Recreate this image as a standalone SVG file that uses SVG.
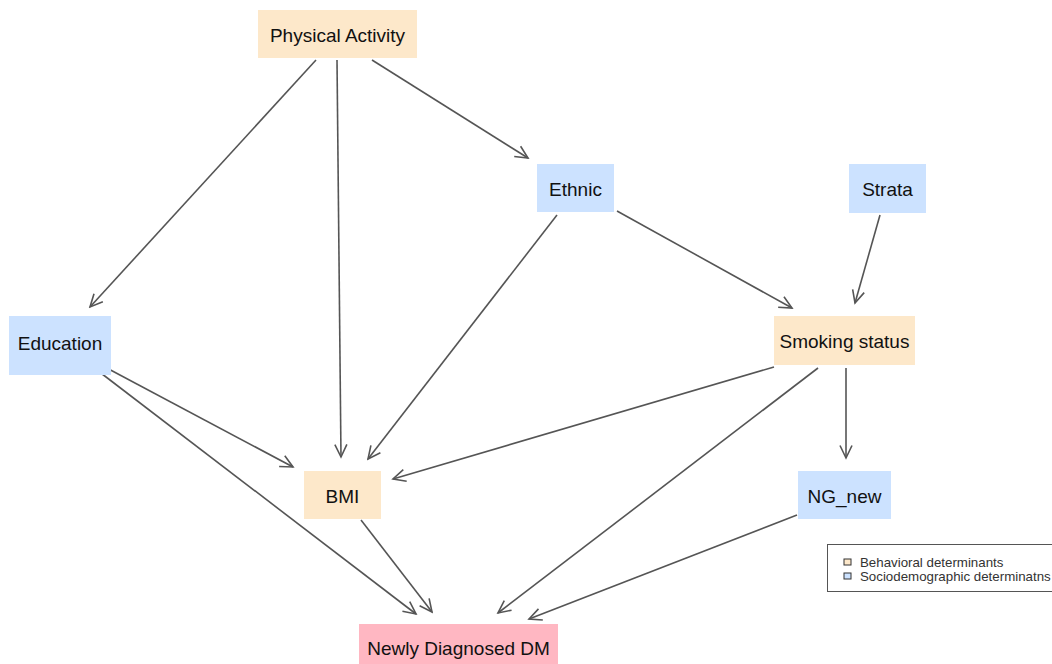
<svg xmlns="http://www.w3.org/2000/svg" width="1052" height="664" viewBox="0 0 1052 664">
<style>
.beh{fill:#FDE8CA}
.soc{fill:#CCE2FF}
.out{fill:#FFB7C2}
.lbl{font-family:"Liberation Sans",Arial,sans-serif;font-size:19px;fill:#111;text-anchor:middle;dominant-baseline:central}
.edge{stroke:#555;stroke-width:1.6;fill:none;marker-end:url(#arr)}
.leg{font-family:"Liberation Sans",Arial,sans-serif;font-size:13.3px;fill:#333}
</style>
<defs>
<marker id="arr" markerUnits="userSpaceOnUse" markerWidth="16" markerHeight="16" viewBox="0 0 16 16" refX="14" refY="8" orient="auto">
<path d="M1.5,2 L14,8 L1.5,14" fill="none" stroke="#555" stroke-width="1.6"/>
</marker>
</defs>
<rect width="1052" height="664" fill="#fff"/>
<g id="connectors">
<line class="edge" x1="316" y1="60" x2="90" y2="307"/>
<line class="edge" x1="337" y1="60" x2="341" y2="457"/>
<line class="edge" x1="372" y1="60" x2="528" y2="158"/>
<line class="edge" x1="557" y1="215" x2="368" y2="459"/>
<line class="edge" x1="617" y1="211" x2="792" y2="308"/>
<line class="edge" x1="880" y1="215" x2="855" y2="303"/>
<line class="edge" x1="774" y1="367" x2="393" y2="479"/>
<line class="edge" x1="846" y1="368" x2="846" y2="458"/>
<line class="edge" x1="818" y1="368" x2="498" y2="613"/>
<line class="edge" x1="797" y1="515" x2="529" y2="619"/>
<line class="edge" x1="103" y1="366" x2="293" y2="467"/>
<line class="edge" x1="93" y1="367" x2="416" y2="614"/>
<line class="edge" x1="361" y1="520" x2="432" y2="612"/>
</g>
<g id="physical-activity"><rect class="beh" x="258" y="10" width="159" height="48"/><text class="lbl" x="337.5" y="35">Physical Activity</text></g>
<g id="ethnic"><rect class="soc" x="537" y="164" width="77" height="48"/><text class="lbl" x="575.5" y="189">Ethnic</text></g>
<g id="strata"><rect class="soc" x="849" y="164" width="77" height="49"/><text class="lbl" x="887.5" y="189">Strata</text></g>
<g id="education"><rect class="soc" x="9" y="316" width="102" height="59"/><text class="lbl" x="60" y="343">Education</text></g>
<g id="smoking-status"><rect class="beh" x="774" y="316" width="141" height="49"/><text class="lbl" x="844.5" y="341">Smoking status</text></g>
<g id="bmi"><rect class="beh" x="304" y="471" width="77" height="48"/><text class="lbl" x="342.5" y="496">BMI</text></g>
<g id="ng-new"><rect class="soc" x="798" y="471" width="93" height="48"/><text class="lbl" x="844.5" y="496">NG_new</text></g>
<g id="newly-diagnosed-dm"><rect class="out" x="359" y="624" width="199" height="45"/><text class="lbl" x="458.5" y="648">Newly Diagnosed DM</text></g>
<g id="legend">
<rect x="827.5" y="544.5" width="240" height="47" fill="#fff" stroke="#555" stroke-width="1"/>
<rect x="844" y="559" width="7" height="6" fill="#FDE8CA" stroke="#333" stroke-width="1"/>
<rect x="844" y="573" width="7" height="6" fill="#CCE2FF" stroke="#333" stroke-width="1"/>
<text class="leg" x="860" y="567">Behavioral determinants</text>
<text class="leg" x="860" y="581">Sociodemographic determinatns</text>
</g>
</svg>
